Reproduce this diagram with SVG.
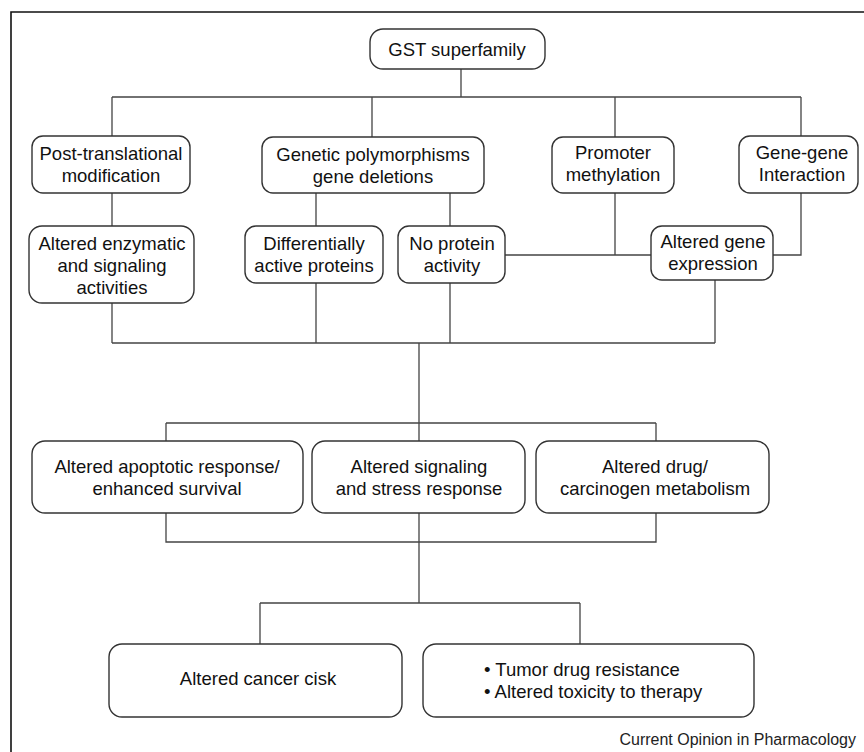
<svg xmlns="http://www.w3.org/2000/svg" width="864" height="752" viewBox="0 0 864 752">
<style>
.frame{fill:none;stroke:#111;stroke-width:1.6}
.box{fill:#fff;stroke:#333;stroke-width:1.4}
.conn{fill:none;stroke:#444;stroke-width:1.3}
text{font-family:"Liberation Sans",Arial,sans-serif;font-size:18.5px;fill:#111;text-anchor:middle}
.credit{font-size:16px;text-anchor:end;fill:#222}
</style>
<rect width="864" height="752" fill="#fff"/>
<path class="frame" d="M11,752 V12 H864"/>
<g id="connectors">
<path class="conn" d="M461,69 V97 M112,97 H801 M112,97 V136 M372,97 V137 M615,97 V137 M801,97 V136"/>
<path class="conn" d="M112,193 V226 M316,193 V226 M450,193 V226"/>
<path class="conn" d="M615,193 V255 M505,255 H651 M801,193 V255 H773"/>
<path class="conn" d="M112,303 V343 M316,283 V343 M450,283 V343 M715,280 V343 M112,343 H715"/>
<path class="conn" d="M419,343 V441 M166,423 H656 M166,423 V441 M656,423 V441"/>
<path class="conn" d="M166,513 V542 H656 V513 M419,513 V603 M260,603 H580 M260,603 V644 M580,603 V644"/>
</g>
<g id="gst"><rect class="box" x="370" y="29" width="175" height="40" rx="13"/><text x="457" y="56">GST superfamily</text></g>
<g id="ptm"><rect class="box" x="32" y="136" width="158" height="57" rx="11"/><text x="111" y="160">Post-translational</text><text x="111" y="182">modification</text></g>
<g id="genetic"><rect class="box" x="262" y="137" width="222" height="56" rx="11"/><text x="373" y="161">Genetic polymorphisms</text><text x="373" y="183">gene deletions</text></g>
<g id="promoter"><rect class="box" x="552" y="137" width="122" height="56" rx="11"/><text x="613" y="159">Promoter</text><text x="613" y="181">methylation</text></g>
<g id="genegene"><rect class="box" x="739" y="136" width="119" height="57" rx="11"/><text x="802" y="159">Gene-gene</text><text x="802" y="181">Interaction</text></g>
<g id="enzymatic"><rect class="box" x="29" y="226" width="165" height="77" rx="13"/><text x="112" y="250">Altered enzymatic</text><text x="112" y="272">and signaling</text><text x="112" y="294">activities</text></g>
<g id="differential"><rect class="box" x="245" y="226" width="138" height="57" rx="11"/><text x="314" y="250">Differentially</text><text x="314" y="272">active proteins</text></g>
<g id="noprotein"><rect class="box" x="398" y="226" width="107" height="57" rx="11"/><text x="452" y="250">No protein</text><text x="452" y="272">activity</text></g>
<g id="geneexpr"><rect class="box" x="651" y="226" width="122" height="54" rx="11"/><text x="713" y="248">Altered gene</text><text x="713" y="270">expression</text></g>
<g id="apoptotic"><rect class="box" x="32" y="441" width="271" height="72" rx="13"/><text x="167" y="473">Altered apoptotic response/</text><text x="167" y="495">enhanced survival</text></g>
<g id="signaling"><rect class="box" x="312" y="441" width="213" height="72" rx="13"/><text x="419" y="473">Altered signaling</text><text x="419" y="495">and stress response</text></g>
<g id="drug"><rect class="box" x="536" y="441" width="233" height="72" rx="13"/><text x="655" y="473">Altered drug/</text><text x="655" y="495">carcinogen metabolism</text></g>
<g id="cancer"><rect class="box" x="109" y="644" width="293" height="73" rx="13"/><text x="258" y="685">Altered cancer cisk</text></g>
<g id="tumor"><rect class="box" x="423" y="644" width="331" height="73" rx="13"/><text x="484" y="676" style="text-anchor:start">• Tumor drug resistance</text><text x="484" y="698" style="text-anchor:start">• Altered toxicity to therapy</text></g>
<text class="credit" x="856" y="745">Current Opinion in Pharmacology</text>
</svg>
